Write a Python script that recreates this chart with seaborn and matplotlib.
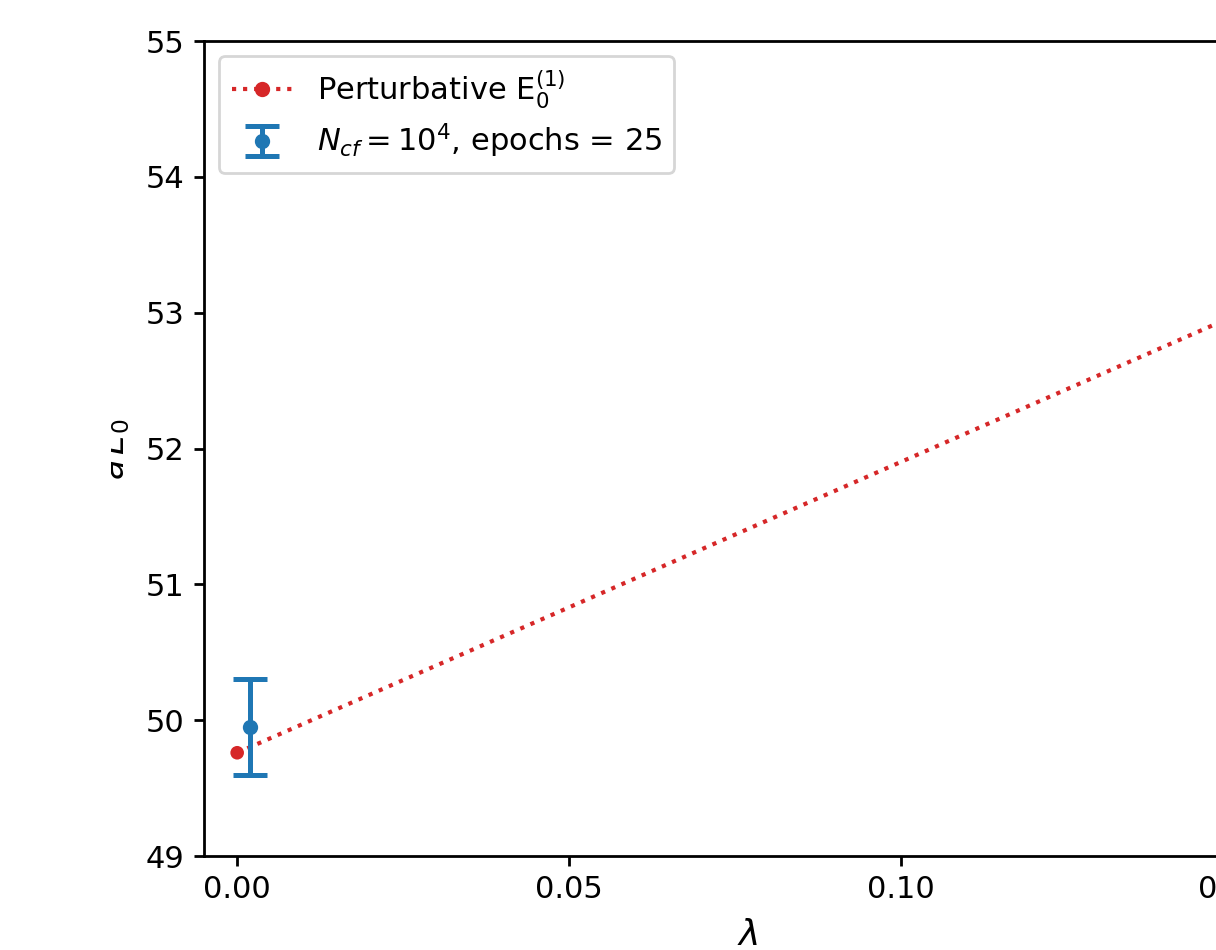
import matplotlib
matplotlib.use("Agg")
import matplotlib.pyplot as plt
from matplotlib.lines import Line2D
from matplotlib.transforms import Bbox, TransformedBbox
import seaborn as sns
import pandas as pd

# perturbative line
lam_pert = [0.0, 0.05, 0.10, 0.15, 0.20]
e_pert = [49.76, 50.83, 51.90, 52.97, 54.04]

# network estimate
lam_nn = [0.002]
e_nn = [49.95]
e_nn_err = [0.35]

xticks = [0.00, 0.05, 0.10, 0.15]
yticks = [49, 50, 51, 52, 53, 54, 55]

sns.set_style("ticks", {"axes.edgecolor": "black", "xtick.color": "black",
                        "ytick.color": "black", "text.color": "black",
                        "axes.labelcolor": "black"})
plt.rcParams['font.family'] = ['DejaVu Sans']

fig = plt.figure(figsize=(6.08, 4.75), dpi=200)
W, H = 1216, 950
ax = fig.add_axes([204 / W, (H - 856) / H, (1292 - 204) / W, (856 - 41) / H])

red = "#d62728"
blue = "#1f77b4"
df = pd.DataFrame({"lam": lam_pert, "E": e_pert})
sns.lineplot(data=df, x="lam", y="E", ax=ax, color=red, linestyle=":", linewidth=1.5)
sns.scatterplot(x=lam_pert[:1], y=e_pert[:1], ax=ax, color=red, s=24,
                edgecolor="none", zorder=3)
h_err = ax.errorbar(lam_nn, e_nn, yerr=e_nn_err, fmt="o", color=blue, ms=4.5,
                    elinewidth=1.8, capthick=1.8, capsize=6, zorder=4)

ax.set_xlim(-0.005, 0.159)
ax.set_ylim(49, 55)
ax.set_xticks(xticks)
ax.set_xticklabels([f"{t:.2f}" for t in xticks])
ax.set_yticks(yticks)
ax.set_xlabel(r"$\lambda$", fontsize=13, labelpad=5)
ax.set_ylabel(r"$a\,E_0$", fontsize=12, labelpad=5)
lab = ax.yaxis.label
lab.set_clip_box(TransformedBbox(Bbox.from_extents(111 / W, 0, 1, 1), fig.transFigure))
lab.set_clip_on(True)
for s in ax.spines.values():
    s.set_visible(True)
    s.set_linewidth(1.0)
ax.tick_params(direction="out", length=3.5, width=1.0, labelsize=11)

h_line = Line2D([0], [0], color=red, linestyle=":", linewidth=1.5, marker="o", ms=4.5)
ax.legend([h_line, h_err],
          [r"Perturbative E$_0^{(1)}$", r"$N_{cf} = 10^4$, epochs = 25"],
          loc="upper left", fontsize=11, frameon=True, labelspacing=0.37)

fig.savefig("out.png", dpi=200)
